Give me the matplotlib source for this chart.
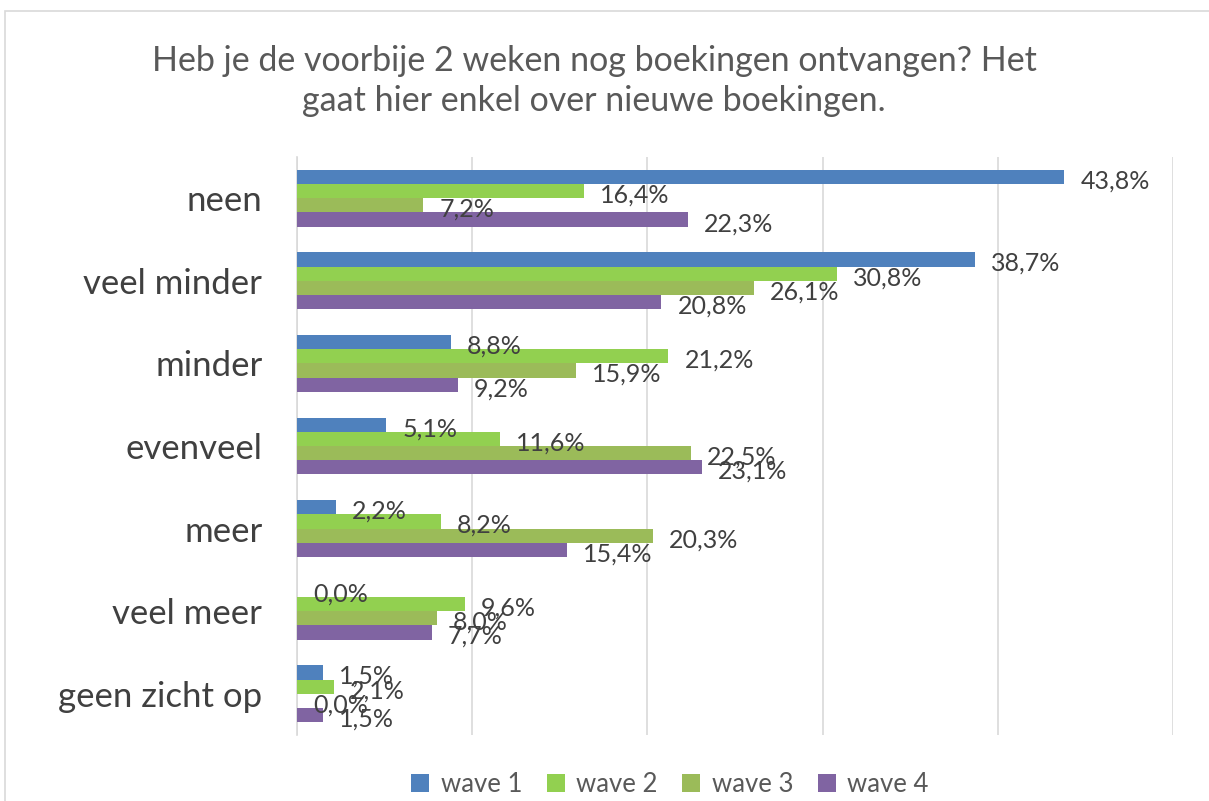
import matplotlib
matplotlib.use('Agg')
import matplotlib.pyplot as plt
import numpy as np

categories = ['neen', 'veel minder', 'minder', 'evenveel', 'meer', 'veel meer', 'geen zicht op']
wave1 = [43.8, 38.7, 8.8, 5.1, 2.2, 0.0, 1.5]
wave2 = [16.4, 30.8, 21.2, 11.6, 8.2, 9.6, 2.1]
wave3 = [7.2, 26.1, 15.9, 22.5, 20.3, 8.0, 0.0]
wave4 = [22.3, 20.8, 9.2, 23.1, 15.4, 7.7, 1.5]
series_names = ['wave 1', 'wave 2', 'wave 3', 'wave 4']
colors = ['#4F81BD', '#92D050', '#9BBB59', '#8064A2']

plt.rcParams['font.family'] = ['Lato', 'DejaVu Sans']

fig = plt.figure(figsize=(12.09, 8.01), dpi=100)
ax = fig.add_axes([297 / 1209, 1 - 735 / 801, (1173 - 297) / 1209, (735 - 157) / 801])

# outer chart border
fig.patches.append(plt.Rectangle((5 / 1209, -0.01), 1.02, 1 - 11 / 801 + 0.01,
                                 transform=fig.transFigure, fill=False,
                                 edgecolor='#D9D9D9', linewidth=1.2))

y = np.arange(len(categories))
h = 0.172
for i, (vals, name) in enumerate(zip([wave1, wave2, wave3, wave4], series_names)):
    pos = y - 1.5 * h + i * h
    ax.barh(pos, vals, height=h, color=colors[i], label=name, zorder=3)
    for p, v in zip(pos, vals):
        ax.annotate(f'{v:.1f}%'.replace('.', ','), (v, p), xytext=(16, -4),
                    textcoords='offset pixels', va='center', ha='left',
                    fontsize=18, color='#404040', zorder=4)

ax.set_xlim(0, 50)
ax.set_ylim(len(categories) - 0.5, -0.5)
ax.set_xticks([0, 10, 20, 30, 40, 50])
ax.set_xticklabels([])
ax.tick_params(axis='x', length=0)
ax.tick_params(axis='y', length=0, pad=25, labelsize=25, labelcolor='#404040')
ax.set_yticks(y)
ax.set_yticklabels(categories)
ax.grid(axis='x', color='#D9D9D9', linewidth=1.2, zorder=0)
for s in ['top', 'right', 'bottom']:
    ax.spines[s].set_visible(False)
ax.spines['left'].set_color('#D9D9D9')
ax.spines['left'].set_linewidth(1.2)

fig.text(594 / 1209, 1 - 81 / 801,
         'Heb je de voorbije 2 weken nog boekingen ontvangen? Het\ngaat hier enkel over nieuwe boekingen.',
         ha='center', va='center', fontsize=24.5, color='#595959', linespacing=1.3)

fig.legend(loc='center', bbox_to_anchor=(670 / 1209, 1 - 784 / 801), ncol=4,
           frameon=False, fontsize=18.5, handlelength=0.7, handleheight=0.7,
           columnspacing=0.95, handletextpad=0.45, labelcolor='#595959')

fig.savefig('out.png', dpi=100)
